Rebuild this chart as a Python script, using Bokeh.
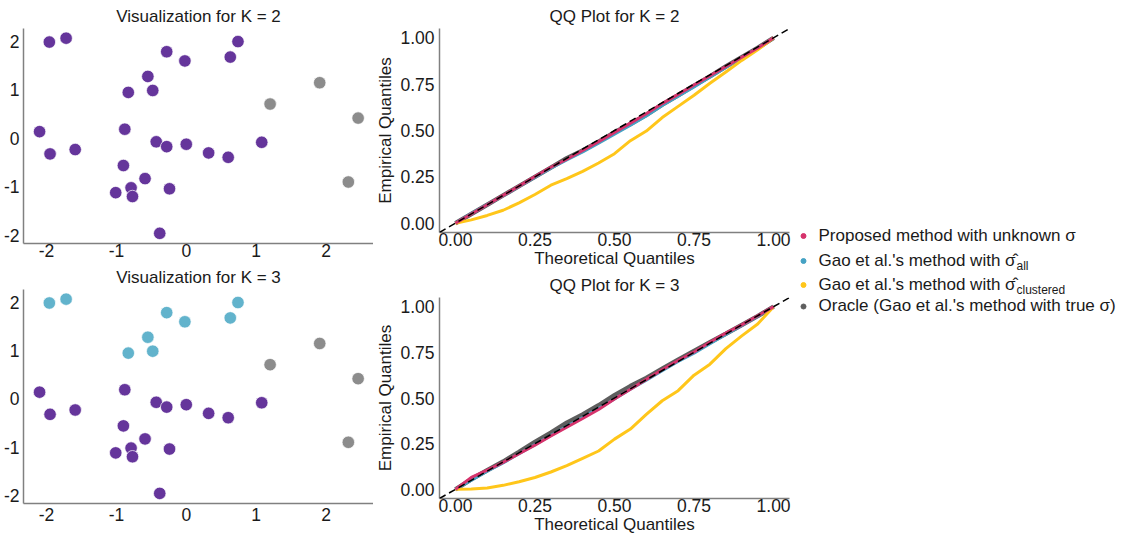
from bokeh.plotting import figure
from bokeh.models import Range1d, FixedTicker, Slope, ColumnDataSource, CategoricalColorMapper
from bokeh.layouts import row, column
from bokeh.embed import file_html
from bokeh.resources import INLINE
from bokeh.core.properties import value

FONT = "Liberation Sans"

# ---------------- data ----------------
pt_x = [-1.96, -1.72, -0.28, -0.02, 0.74, 0.63, -0.55, -0.48, -0.83,
        1.91, 1.20, 2.46, 2.32,
        -2.10, -0.88, -1.95, -1.59, -0.43, -0.28, 0.00, 0.32, 0.60, 1.08,
        -0.90, -0.59, -0.79, -0.77, -1.01, -0.24, -0.38]
pt_y = [1.99, 2.07, 1.79, 1.60, 2.00, 1.68, 1.28, 0.99, 0.95,
        1.15, 0.71, 0.42, -0.90,
        0.14, 0.19, -0.32, -0.23, -0.07, -0.17, -0.12, -0.30, -0.39, -0.08,
        -0.56, -0.83, -1.02, -1.20, -1.12, -1.04, -1.96]
cluster_k2 = ["A"] * 9 + ["B"] * 4 + ["A"] * 17
cluster_k3 = ["C"] * 9 + ["B"] * 4 + ["A"] * 17
cluster_names = ["A", "B", "C"]
cluster_colors = ["#65359B", "#8C8C8C", "#62B3CC"]

scatter_ticks = [-2, -1, 0, 1, 2]
scatter_tick_labels = ["-2", "-1", "0", "1", "2"]

theo = [0.00, 0.05, 0.10, 0.15, 0.20, 0.25, 0.30, 0.35, 0.40, 0.45, 0.50,
        0.55, 0.60, 0.65, 0.70, 0.75, 0.80, 0.85, 0.90, 0.95, 1.00]

k2_proposed = [0.0, 0.05, 0.10, 0.15, 0.20, 0.252, 0.302, 0.345, 0.392, 0.44, 0.49,
               0.54, 0.59, 0.645, 0.695, 0.745, 0.795, 0.845, 0.895, 0.945, 1.0]
k2_all = [0.0, 0.052, 0.10, 0.148, 0.198, 0.248, 0.297, 0.342, 0.385, 0.432, 0.48,
          0.528, 0.578, 0.635, 0.685, 0.735, 0.788, 0.84, 0.892, 0.945, 1.0]
k2_clustered = [0.0, 0.018, 0.042, 0.07, 0.11, 0.155, 0.205, 0.24, 0.28, 0.325, 0.375,
                0.445, 0.497, 0.57, 0.63, 0.69, 0.755, 0.815, 0.878, 0.935, 1.0]
k2_oracle = [0.0, 0.05, 0.10, 0.15, 0.20, 0.25, 0.30, 0.35, 0.392, 0.44, 0.49,
             0.535, 0.585, 0.64, 0.69, 0.742, 0.792, 0.845, 0.895, 0.945, 1.0]

k3_proposed = [0.0, 0.065, 0.105, 0.148, 0.195, 0.242, 0.292, 0.34, 0.388, 0.437, 0.495,
               0.548, 0.602, 0.655, 0.705, 0.752, 0.805, 0.855, 0.9, 0.95, 1.0]
k3_all = [0.0, 0.05, 0.10, 0.145, 0.195, 0.245, 0.295, 0.345, 0.393, 0.443, 0.495,
          0.548, 0.598, 0.65, 0.7, 0.745, 0.797, 0.848, 0.897, 0.947, 1.0]
k3_clustered = [0.0, 0.002, 0.008, 0.022, 0.042, 0.065, 0.095, 0.13, 0.17, 0.21, 0.275,
                0.33, 0.41, 0.485, 0.54, 0.625, 0.685, 0.77, 0.84, 0.905, 1.0]
k3_oracle = [0.0, 0.055, 0.105, 0.152, 0.205, 0.26, 0.31, 0.365, 0.41, 0.46, 0.515,
             0.565, 0.61, 0.66, 0.71, 0.758, 0.805, 0.852, 0.9, 0.948, 1.0]

qq_ticks = [0.0, 0.25, 0.5, 0.75, 1.0]
qq_tick_labels = ["0.00", "0.25", "0.50", "0.75", "1.00"]

legend_labels = ["Proposed method with unknown \u03c3",
                 "Gao et al.'s method with \u03c3\u0302",
                 "Gao et al.'s method with \u03c3\u0302",
                 "Oracle (Gao et al.'s method with true \u03c3)"]
legend_subscripts = ["all", "clustered"]
legend_colors = ["#D6336C", "#45A2C4", "#FFC61A", "#5E5E5E"]

# ---------------- styling helpers ----------------
AXIS_COLOR = "#808080"
TXT = "#1a1a1a"


def style(p, title_standoff):
    p.outline_line_color = None
    p.xgrid.visible = False
    p.ygrid.visible = False
    p.background_fill_color = "white"
    p.border_fill_color = "white"
    for ax in p.axis:
        ax.axis_line_color = AXIS_COLOR
        ax.axis_line_width = 1.5
        ax.major_tick_line_color = None
        ax.minor_tick_line_color = None
        ax.major_tick_out = 0
        ax.major_tick_in = 0
        ax.minor_tick_out = 0
        ax.minor_tick_in = 0
        ax.major_label_text_font = FONT
        ax.major_label_text_font_size = "17.5px"
        ax.major_label_text_color = TXT
        ax.axis_label_text_font = FONT
        ax.axis_label_text_font_size = "17px"
        ax.axis_label_text_font_style = "normal"
        ax.axis_label_text_color = TXT
    p.title.text_font = FONT
    p.title.text_font_size = "17px"
    p.title.text_font_style = "normal"
    p.title.text_color = TXT
    p.title.align = "center"
    p.title.standoff = title_standoff


mapper = CategoricalColorMapper(factors=cluster_names, palette=cluster_colors)


def scatter_fig(title, clusters, top, fh, bottom, tstand, xstand):
    p = figure(frame_width=350, frame_height=fh,
               x_range=Range1d(-2.33, 2.68), y_range=Range1d(-2.17, 2.27),
               min_border_left=19, min_border_right=0,
               min_border_top=top, min_border_bottom=bottom,
               title=title, output_backend="svg", toolbar_location=None)
    style(p, tstand)
    p.xaxis.ticker = FixedTicker(ticks=scatter_ticks)
    p.yaxis.ticker = FixedTicker(ticks=scatter_ticks)
    p.xaxis.major_label_overrides = dict(zip(scatter_ticks, scatter_tick_labels))
    p.yaxis.major_label_overrides = dict(zip(scatter_ticks, scatter_tick_labels))
    p.xaxis.major_label_standoff = xstand
    p.yaxis.major_label_standoff = 4
    src = ColumnDataSource(dict(x=pt_x, y=pt_y, c=clusters))
    p.scatter("x", "y", source=src, size=12.5,
              fill_color={"field": "c", "transform": mapper},
              line_color="white", line_width=0.7)
    return p


def qq_fig(title, red, blue, yellow, gray, top, fh, bottom, tstand):
    p = figure(frame_width=350, frame_height=fh,
               x_range=Range1d(-0.05, 1.05), y_range=Range1d(-0.05, 1.05),
               min_border_left=62, min_border_right=2,
               min_border_top=top, min_border_bottom=bottom,
               title=title, output_backend="svg", toolbar_location=None)
    style(p, tstand)
    p.xaxis.axis_label = "Theoretical Quantiles"
    p.yaxis.axis_label = "Empirical Quantiles"
    p.xaxis.ticker = FixedTicker(ticks=qq_ticks)
    p.yaxis.ticker = FixedTicker(ticks=qq_ticks)
    p.xaxis.major_label_overrides = dict(zip(qq_ticks, qq_tick_labels))
    p.yaxis.major_label_overrides = dict(zip(qq_ticks, qq_tick_labels))
    p.xaxis.major_label_standoff = 0
    p.xaxis.axis_label_standoff = 0
    p.yaxis.major_label_standoff = 5
    p.yaxis.axis_label_standoff = 2
    p.line(theo, gray, line_color="#5E5E5E", line_width=4.5)
    p.line(theo, blue, line_color="#45A2C4", line_width=3)
    p.line(theo, yellow, line_color="#FFC61A", line_width=3)
    p.line(theo, red, line_color="#D6336C", line_width=3)
    p.add_layout(Slope(gradient=1, y_intercept=0, line_color="black",
                       line_width=1.5, line_dash="7 4"))
    return p


sA = scatter_fig("Visualization for K = 2", cluster_k2, 28, 215, 20, 5, 0)
sB = scatter_fig("Visualization for K = 3", cluster_k3, 26, 214, 24, 5, 4)
qA = qq_fig("QQ Plot for K = 2", k2_proposed, k2_all, k2_clustered, k2_oracle, 28, 204, 39, 5)
qB = qq_fig("QQ Plot for K = 3", k3_proposed, k3_all, k3_clustered, k3_oracle, 26, 201, 39, 5)

# ---------------- legend ----------------
LW, LH = 336, 537
lg = figure(width=LW, height=LH, x_range=Range1d(0, LW), y_range=Range1d(LH, 0),
            x_axis_location=None, y_axis_location=None, min_border=0,
            output_backend="svg", toolbar_location=None)
lg.outline_line_color = None
lg.xgrid.visible = False
lg.ygrid.visible = False
row_y = [234.5, 259.5, 283.5, 305]
text_x = 27
dot_x = 12
lg.scatter([dot_x] * 4, [r + 1 for r in row_y], size=5, color=legend_colors)
lg.text([text_x] * 4, row_y, text=legend_labels, text_font=value(FONT),
        text_font_size="17px", text_baseline="middle", text_color=TXT)
lg.text([text_x + 198] * 2, [row_y[1] + 5.5, row_y[2] + 5.5], text=legend_subscripts,
        text_font=value(FONT), text_font_size="12px", text_baseline="middle",
        text_color=TXT)

layout = row(column(sA, sB), column(qA, qB), lg)
open("out.html", "w").write(file_html(layout, INLINE))
